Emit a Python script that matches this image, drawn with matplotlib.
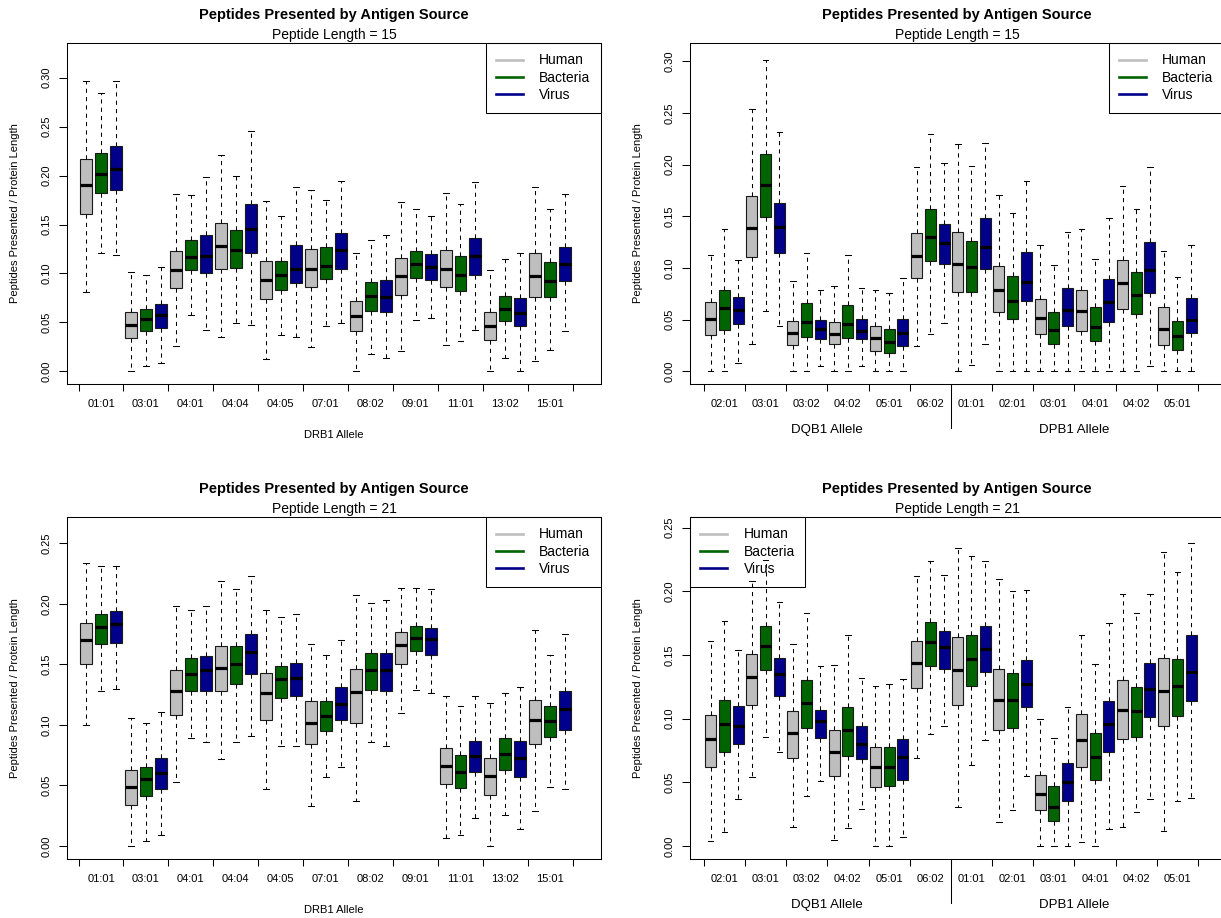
import matplotlib
matplotlib.use("Agg")
import matplotlib.pyplot as plt
import matplotlib.transforms as mtransforms
from matplotlib.lines import Line2D

plt.rcParams['font.family'] = ['Liberation Sans', 'DejaVu Sans']

# ---------------------------------------------------------------- data
sources = ["Human", "Bacteria", "Virus"]
source_colors = ["#BEBEBE", "#006400", "#00008B"]

drb1_alleles = ["01:01", "03:01", "04:01", "04:04", "04:05", "07:01",
                "08:02", "09:01", "11:01", "13:02", "15:01"]
dqb1_alleles = ["02:01", "03:01", "03:02", "04:02", "05:01", "06:02"]
dpb1_alleles = ["01:01", "02:01", "03:01", "04:01", "04:02", "05:01"]

# five-number summaries per allele: (whisker low, Q1, median, Q3, whisker high)
len15_drb1_human = [(0.081, 0.161, 0.190, 0.217, 0.297), (0.000, 0.034, 0.047, 0.061, 0.101),
                    (0.026, 0.085, 0.104, 0.123, 0.181), (0.035, 0.105, 0.128, 0.152, 0.221),
                    (0.013, 0.074, 0.093, 0.113, 0.174), (0.025, 0.086, 0.105, 0.125, 0.185),
                    (0.000, 0.041, 0.057, 0.072, 0.121), (0.021, 0.078, 0.097, 0.116, 0.173),
                    (0.027, 0.086, 0.105, 0.124, 0.182), (0.000, 0.032, 0.046, 0.061, 0.104),
                    (0.010, 0.076, 0.097, 0.121, 0.188)]
len15_drb1_bacteria = [(0.121, 0.182, 0.202, 0.223, 0.284), (0.005, 0.041, 0.053, 0.064, 0.098),
                       (0.058, 0.103, 0.117, 0.134, 0.180), (0.049, 0.106, 0.124, 0.144, 0.200),
                       (0.037, 0.083, 0.098, 0.113, 0.159), (0.046, 0.094, 0.108, 0.127, 0.175),
                       (0.018, 0.062, 0.077, 0.091, 0.134), (0.052, 0.095, 0.110, 0.123, 0.166),
                       (0.031, 0.082, 0.098, 0.118, 0.171), (0.014, 0.051, 0.064, 0.077, 0.115),
                       (0.022, 0.076, 0.092, 0.112, 0.166)]
len15_drb1_virus = [(0.119, 0.185, 0.207, 0.230, 0.297), (0.008, 0.044, 0.058, 0.069, 0.107),
                    (0.042, 0.100, 0.118, 0.139, 0.199), (0.047, 0.121, 0.145, 0.171, 0.246),
                    (0.035, 0.090, 0.105, 0.129, 0.188), (0.049, 0.105, 0.124, 0.141, 0.194),
                    (0.014, 0.061, 0.076, 0.093, 0.139), (0.054, 0.093, 0.107, 0.120, 0.159),
                    (0.042, 0.098, 0.118, 0.136, 0.193), (0.000, 0.046, 0.060, 0.075, 0.121),
                    (0.041, 0.092, 0.110, 0.127, 0.181)]

len15_dq_dp_human = [(0.000, 0.035, 0.051, 0.067, 0.113), (0.026, 0.111, 0.139, 0.170, 0.254),
                     (0.000, 0.025, 0.037, 0.049, 0.087), (0.000, 0.026, 0.036, 0.048, 0.083),
                     (0.000, 0.020, 0.032, 0.044, 0.079), (0.024, 0.090, 0.112, 0.134, 0.198),
                     (0.000, 0.077, 0.104, 0.135, 0.220), (0.000, 0.057, 0.079, 0.102, 0.171),
                     (0.000, 0.036, 0.052, 0.070, 0.122), (0.000, 0.039, 0.058, 0.079, 0.138),
                     (0.000, 0.060, 0.085, 0.108, 0.179), (0.000, 0.025, 0.041, 0.062, 0.116)]
len15_dq_dp_bacteria = [(0.000, 0.040, 0.061, 0.079, 0.138), (0.058, 0.149, 0.180, 0.210, 0.301),
                        (0.000, 0.033, 0.048, 0.066, 0.114), (0.000, 0.032, 0.046, 0.064, 0.113),
                        (0.000, 0.018, 0.028, 0.041, 0.076), (0.036, 0.107, 0.130, 0.157, 0.230),
                        (0.006, 0.077, 0.101, 0.126, 0.199), (0.000, 0.051, 0.068, 0.092, 0.153),
                        (0.000, 0.026, 0.040, 0.057, 0.103), (0.000, 0.029, 0.043, 0.062, 0.109),
                        (0.000, 0.055, 0.074, 0.096, 0.157), (0.000, 0.021, 0.034, 0.049, 0.091)]
len15_dq_dp_virus = [(0.008, 0.046, 0.059, 0.072, 0.108), (0.044, 0.114, 0.140, 0.163, 0.232),
                     (0.005, 0.031, 0.041, 0.050, 0.079), (0.005, 0.031, 0.039, 0.051, 0.081),
                     (0.000, 0.024, 0.037, 0.051, 0.090), (0.047, 0.104, 0.124, 0.143, 0.202),
                     (0.026, 0.099, 0.120, 0.148, 0.221), (0.000, 0.068, 0.086, 0.115, 0.184),
                     (0.000, 0.044, 0.059, 0.081, 0.135), (0.000, 0.048, 0.067, 0.089, 0.148),
                     (0.005, 0.076, 0.098, 0.125, 0.198), (0.000, 0.037, 0.050, 0.071, 0.122)]

len21_drb1_human = [(0.100, 0.150, 0.170, 0.184, 0.234), (0.000, 0.034, 0.049, 0.063, 0.106),
                    (0.053, 0.108, 0.128, 0.145, 0.198), (0.072, 0.128, 0.147, 0.165, 0.219),
                    (0.047, 0.104, 0.126, 0.143, 0.195), (0.033, 0.084, 0.102, 0.120, 0.167),
                    (0.037, 0.102, 0.127, 0.146, 0.207), (0.110, 0.150, 0.166, 0.177, 0.213),
                    (0.007, 0.051, 0.066, 0.081, 0.124), (0.000, 0.042, 0.058, 0.073, 0.118),
                    (0.029, 0.084, 0.104, 0.121, 0.178)]
len21_drb1_bacteria = [(0.128, 0.167, 0.181, 0.192, 0.231), (0.004, 0.041, 0.055, 0.065, 0.102),
                       (0.089, 0.128, 0.142, 0.155, 0.195), (0.086, 0.134, 0.150, 0.165, 0.212),
                       (0.083, 0.122, 0.138, 0.149, 0.189), (0.057, 0.095, 0.107, 0.120, 0.158),
                       (0.086, 0.129, 0.145, 0.159, 0.201), (0.129, 0.161, 0.172, 0.182, 0.213),
                       (0.009, 0.048, 0.061, 0.075, 0.116), (0.026, 0.063, 0.076, 0.089, 0.126),
                       (0.049, 0.090, 0.103, 0.116, 0.158)]
len21_drb1_virus = [(0.130, 0.168, 0.183, 0.194, 0.231), (0.009, 0.047, 0.060, 0.073, 0.111),
                    (0.086, 0.128, 0.145, 0.157, 0.198), (0.091, 0.142, 0.160, 0.175, 0.223),
                    (0.083, 0.124, 0.139, 0.151, 0.192), (0.065, 0.104, 0.117, 0.131, 0.170),
                    (0.083, 0.128, 0.145, 0.159, 0.203), (0.126, 0.158, 0.171, 0.180, 0.212),
                    (0.023, 0.061, 0.074, 0.087, 0.124), (0.014, 0.057, 0.073, 0.087, 0.131),
                    (0.047, 0.096, 0.113, 0.128, 0.175)]

len21_dq_dp_human = [(0.004, 0.062, 0.084, 0.103, 0.161), (0.054, 0.111, 0.133, 0.151, 0.208),
                     (0.015, 0.069, 0.089, 0.106, 0.159), (0.005, 0.055, 0.074, 0.091, 0.142),
                     (0.000, 0.046, 0.062, 0.078, 0.126), (0.069, 0.124, 0.144, 0.161, 0.212),
                     (0.031, 0.111, 0.138, 0.164, 0.234), (0.019, 0.091, 0.115, 0.139, 0.210),
                     (0.000, 0.028, 0.041, 0.056, 0.100), (0.003, 0.062, 0.083, 0.104, 0.166),
                     (0.015, 0.084, 0.107, 0.130, 0.198), (0.012, 0.094, 0.122, 0.148, 0.231)]
len21_dq_dp_bacteria = [(0.011, 0.074, 0.096, 0.115, 0.177), (0.086, 0.138, 0.157, 0.173, 0.225),
                        (0.039, 0.093, 0.112, 0.130, 0.183), (0.014, 0.071, 0.091, 0.109, 0.166),
                        (0.000, 0.047, 0.062, 0.078, 0.127), (0.088, 0.141, 0.160, 0.176, 0.224),
                        (0.064, 0.126, 0.147, 0.166, 0.228), (0.028, 0.093, 0.115, 0.136, 0.200),
                        (0.000, 0.020, 0.031, 0.047, 0.085), (0.000, 0.052, 0.070, 0.089, 0.143),
                        (0.027, 0.086, 0.106, 0.125, 0.183), (0.035, 0.102, 0.126, 0.147, 0.215)]
len21_dq_dp_virus = [(0.037, 0.080, 0.094, 0.110, 0.154), (0.074, 0.118, 0.135, 0.148, 0.192),
                     (0.051, 0.085, 0.098, 0.107, 0.141), (0.029, 0.068, 0.080, 0.094, 0.132),
                     (0.007, 0.052, 0.070, 0.084, 0.131), (0.094, 0.139, 0.156, 0.169, 0.213),
                     (0.083, 0.137, 0.155, 0.173, 0.224), (0.055, 0.109, 0.127, 0.146, 0.201),
                     (0.000, 0.035, 0.050, 0.065, 0.109), (0.013, 0.074, 0.096, 0.114, 0.175),
                     (0.037, 0.101, 0.123, 0.144, 0.198), (0.038, 0.114, 0.137, 0.166, 0.238)]

yticks_len15 = [0.00, 0.05, 0.10, 0.15, 0.20, 0.25, 0.30]
yticks_len21 = [0.00, 0.05, 0.10, 0.15, 0.20, 0.25]

# ---------------------------------------------------------------- layout
W, H = 1221, 918
PT = 0.72  # points per pixel at 100 dpi
fig = plt.figure(figsize=(W / 100, H / 100), dpi=100)
fig.patch.set_facecolor("white")


def axes_px(left, top, right, bottom):
    return fig.add_axes([left / W, 1 - bottom / H, (right - left) / W, (bottom - top) / H])


def draw_panel(ax, series_list, labels, length, xlim, ylim, yticks, legend_loc,
               legend_anchor, ax_height_px, allele_groups):
    n = len(labels)
    for s, (series, color) in enumerate(zip(series_list, source_colors)):
        stats = [dict(whislo=lo, q1=q1, med=med, q3=q3, whishi=hi, fliers=[])
                 for lo, q1, med, q3, hi in series]
        positions = [3 * g + s + 1 for g in range(n)]
        ax.bxp(stats, positions=positions, widths=0.8, capwidths=0.4,
               patch_artist=True, showfliers=False, manage_ticks=False,
               boxprops=dict(facecolor=color, edgecolor="#1a1a1a", linewidth=0.8),
               medianprops=dict(color="black", linewidth=2.3, solid_capstyle="butt"),
               whiskerprops=dict(color="black", linewidth=0.75, linestyle=(0, (4, 4))),
               capprops=dict(color="black", linewidth=0.75))

    ax.set_xlim(*xlim)
    ax.set_ylim(*ylim)

    # group boundaries carry the tick marks, group centres carry the labels
    ax.set_xticks([3 * g + 0.5 for g in range(n + 1)])
    ax.set_xticklabels([])
    ax.set_xticks([3 * g + 2 for g in range(n)], minor=True)
    ax.set_xticklabels(labels, minor=True)
    ax.tick_params(axis="x", which="major", length=5, width=0.75, direction="out")
    ax.tick_params(axis="x", which="minor", length=0, pad=10.5, labelsize=8)

    ax.set_yticks(yticks)
    ax.set_yticklabels([f"{v:.2f}" for v in yticks])
    ax.tick_params(axis="y", length=5.8, width=0.75, direction="out", pad=5, labelsize=8)
    for t in ax.get_yticklabels():
        t.set_rotation(90)
        t.set_va("center")

    for sp in ax.spines.values():
        sp.set_linewidth(0.75)
        sp.set_color("black")

    ax.annotate("Peptides Presented by Antigen Source", xy=(0.5, 1), xycoords="axes fraction",
                xytext=(0, 28 * PT), textcoords="offset points", ha="center", va="center",
                fontsize=10.5, fontweight="bold")
    ax.annotate(f"Peptide Length = {length}", xy=(0.5, 1), xycoords="axes fraction",
                xytext=(0, 8 * PT), textcoords="offset points", ha="center", va="center",
                fontsize=10)
    ax.annotate("Peptides Presented / Protein Length", xy=(0, 0.5), xycoords="axes fraction",
                xytext=(-52 * PT, 0), textcoords="offset points", ha="center", va="center",
                rotation=90, fontsize=8)

    blend = mtransforms.blended_transform_factory(ax.transData, ax.transAxes)
    if len(allele_groups) == 1:
        name = allele_groups[0][0]
        ax.annotate(name, xy=(0.5, 0), xycoords="axes fraction", xytext=(0, -51 * PT),
                    textcoords="offset points", ha="center", va="center", fontsize=8)
    else:
        start = 0
        for name, count in allele_groups:
            centre = (3 * start + 0.5 + 3 * (start + count) + 0.5) / 2
            ax.annotate(name, xy=(centre, 0), xycoords=blend, xytext=(0, -46 * PT),
                        textcoords="offset points", ha="center", va="center", fontsize=9.5)
            start += count
        # divider between the DQB1 and DPB1 groups
        split = 3 * allele_groups[0][1] + 0.5
        ax.plot([split, split], [0, -44 / ax_height_px], transform=blend, clip_on=False,
                color="black", linewidth=0.75)

    handles = [Line2D([], [], color=c, linewidth=1.9) for c in source_colors]
    leg = ax.legend(handles, sources, loc=legend_loc, bbox_to_anchor=legend_anchor,
                    borderaxespad=0, fontsize=10, frameon=True, fancybox=False,
                    edgecolor="black", facecolor="none", framealpha=1, borderpad=0.75,
                    handlelength=1.9, handletextpad=1.2, labelspacing=0.24)
    leg.get_frame().set_linewidth(0.75)


ax1 = axes_px(67, 43, 601, 384)
ax2 = axes_px(690, 43, 1224, 384)
ax3 = axes_px(67, 517, 601, 859)
ax4 = axes_px(690, 517, 1224, 859)

dq_dp_labels = dqb1_alleles + dpb1_alleles
dq_dp_groups = [("DQB1 Allele", len(dqb1_alleles)), ("DPB1 Allele", len(dpb1_alleles))]

draw_panel(ax1, [len15_drb1_human, len15_drb1_bacteria, len15_drb1_virus], drb1_alleles, 15,
           (-0.27, 35.38), (-0.013, 0.3355), yticks_len15, "upper right", (1, 1), 341,
           [("DRB1 Allele", len(drb1_alleles))])
draw_panel(ax2, [len15_dq_dp_human, len15_dq_dp_bacteria, len15_dq_dp_virus], dq_dp_labels, 15,
           (-0.5, 38.39), (-0.0123, 0.3177), yticks_len15, "upper right", (1, 1), 341,
           dq_dp_groups)
draw_panel(ax3, [len21_drb1_human, len21_drb1_bacteria, len21_drb1_virus], drb1_alleles, 21,
           (-0.27, 35.38), (-0.0107, 0.2717), yticks_len21, "upper right", (1, 1), 342,
           [("DRB1 Allele", len(drb1_alleles))])
draw_panel(ax4, [len21_dq_dp_human, len21_dq_dp_bacteria, len21_dq_dp_virus], dq_dp_labels, 21,
           (-0.5, 38.39), (-0.0102, 0.2584), yticks_len21, "upper left", (0, 1), 342,
           dq_dp_groups)

fig.savefig("out.png", dpi=100)
